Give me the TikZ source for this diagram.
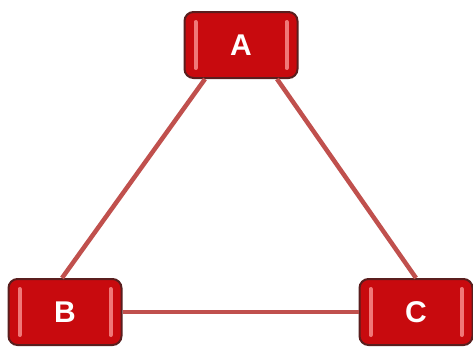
\documentclass[tikz,border=0pt]{standalone}
\usepackage{fontspec}
\setmainfont{Liberation Sans}
\definecolor{boxred}{RGB}{200,10,14}
\definecolor{boxedge}{RGB}{90,30,30}
\definecolor{linkred}{RGB}{192,80,77}
\definecolor{hilite}{RGB}{240,120,120}
\begin{document}
\begin{tikzpicture}[x=1pt,y=-1pt,
  rbox/.style={draw=boxedge, line width=2pt, fill=boxred, rounded corners=9pt,
    minimum width=113pt, minimum height=66pt, inner sep=0pt,
    text=white, font=\fontsize{30}{30}\selectfont\bfseries,
    path picture={
      \draw[hilite, line width=4pt, line cap=round]
        ([xshift=11pt,yshift=-10pt]path picture bounding box.north west) --
        ([xshift=11pt,yshift=10pt]path picture bounding box.south west);
      \draw[hilite, line width=4pt, line cap=round]
        ([xshift=-11pt,yshift=-10pt]path picture bounding box.north east) --
        ([xshift=-11pt,yshift=10pt]path picture bounding box.south east);
    }},
  link/.style={draw=linkred, line width=4.5pt}]
\useasboundingbox (0,0) rectangle (473,351);
\node[rbox] (A) at (241,45) {A};
\node[rbox] (B) at (65,312) {B};
\node[rbox] (C) at (416,312) {C};
\draw[link] ([xshift=-36pt]A.south) -- ([xshift=-3pt]B.north);
\draw[link] ([xshift=36pt]A.south) -- (C.north);
\draw[link] (B.east) -- (C.west);
\end{tikzpicture}
\end{document}
